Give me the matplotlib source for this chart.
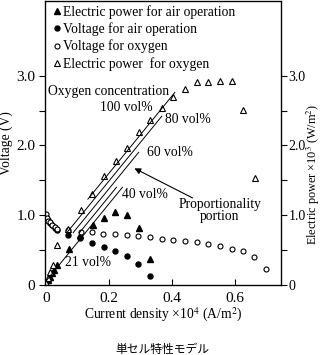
import matplotlib
matplotlib.use('Agg')
import matplotlib.pyplot as plt
import numpy as np

plt.rcParams['font.family'] = ['Liberation Serif', 'DejaVu Serif']
plt.rcParams['mathtext.fontset'] = 'stix'

# current density x10^4 (A/m2) / voltage (V) / power x10^3 (W/m2)
air_p_x = [0.0, 0.006, 0.013, 0.019, 0.025, 0.035, 0.073, 0.108, 0.149, 0.184, 0.219, 0.257, 0.295, 0.330]
air_p_y = [0.01, 0.07, 0.12, 0.17, 0.22, 0.29, 0.51, 0.71, 0.86, 0.96, 1.04, 1.00, 0.81, 0.37]

air_v_x = [0.0, 0.006, 0.013, 0.019, 0.029, 0.035, 0.070, 0.108, 0.146, 0.184, 0.219, 0.257, 0.292, 0.330]
air_v_y = [0.98, 0.93, 0.89, 0.86, 0.82, 0.79, 0.71, 0.67, 0.60, 0.54, 0.49, 0.41, 0.30, 0.13]

oxy_v_x = [0.0, 0.003, 0.006, 0.013, 0.019, 0.029, 0.035, 0.070, 0.111, 0.146, 0.181, 0.219, 0.257,
           0.292, 0.330, 0.368, 0.403, 0.441, 0.479, 0.514, 0.552, 0.590, 0.625, 0.660, 0.698]
oxy_v_y = [1.02, 0.96, 0.92, 0.90, 0.86, 0.83, 0.80, 0.79, 0.76, 0.76, 0.73, 0.73, 0.71,
           0.70, 0.69, 0.66, 0.64, 0.63, 0.61, 0.59, 0.56, 0.51, 0.49, 0.40, 0.23]

oxy_p_x = [0.0, 0.006, 0.013, 0.022, 0.036, 0.070, 0.111, 0.146, 0.184, 0.222, 0.257, 0.295,
           0.330, 0.368, 0.403, 0.441, 0.479, 0.514, 0.552, 0.590, 0.625, 0.663]
oxy_p_y = [0.03, 0.10, 0.18, 0.28, 0.57, 0.80, 1.07, 1.31, 1.56, 1.77, 1.97, 2.19,
           2.36, 2.54, 2.70, 2.81, 2.91, 2.91, 2.93, 2.93, 2.51, 1.54]

# proportionality lines (x = x0 + y/slope)
conc_labels = ['100 vol%', '80 vol%', '60 vol%', '40 vol%', '21 vol%']
line_x0 = [-0.089, -0.069, -0.049, -0.029, -0.010]
line_y_start = [1.23, 0.75, 0.75, 0.75, 0.0]
line_y_end = [2.76, 2.42, 1.90, 1.40, 1.40]
slope = 5.54

fig = plt.figure(figsize=(3.23, 3.55), dpi=100)
ax = fig.add_axes([45/323, 70/355, 236/323, 284/355])

fs = 9.8       # annotations, axis labels, legend
fs_big = 11.0  # tick labels

ax.plot(air_p_x, air_p_y, '^', color='black', ms=3.8, ls='none', label='Electric power for air operation')
ax.plot(air_v_x, air_v_y, 'o', color='black', ms=3.6, ls='none', label='Voltage for air operation')
ax.plot(oxy_v_x, oxy_v_y, 'o', mfc='white', mec='black', mew=0.8, ms=3.6, ls='none', label='Voltage for oxygen')
ax.plot(oxy_p_x, oxy_p_y, '^', mfc='white', mec='black', mew=0.8, ms=3.8, ls='none', label='Electric power  for oxygen')

for x0, ys, ye in zip(line_x0, line_y_start, line_y_end):
    yy = np.array([ys, ye])
    ax.plot(x0 + yy/slope, yy, color='black', lw=0.7)

ax.text(0.006, 2.77, 'Oxygen concentration', fontsize=fs, va='center')
ax.text(0.171, 2.54, conc_labels[0], fontsize=fs, va='center')
ax.text(0.378, 2.37, conc_labels[1], fontsize=fs, va='center')
ax.text(0.321, 1.90, conc_labels[2], fontsize=fs, va='center')
ax.text(0.241, 1.29, conc_labels[3], fontsize=fs, va='center')
ax.text(0.060, 0.32, conc_labels[4], fontsize=fs, va='center')
ax.text(0.552, 1.07, 'Proportionality\nportion', fontsize=fs, ha='center', va='center', linespacing=0.95)
ax.annotate('', xy=(0.273, 1.69), xytext=(0.473, 1.23),
            arrowprops=dict(arrowstyle='-|>', color='black', lw=0.8, mutation_scale=9))

ax.set_xlim(-0.003, 0.746)
ax.set_ylim(0, 4.07)
ax.set_xticks([0, 0.2, 0.4, 0.6])
ax.set_xticklabels(['0', '0.2', '0.4', '0.6'], fontsize=fs_big)
ax.set_yticks([0, 1, 2, 3])
ax.set_yticklabels(['0', '1.0', '2.0', '3.0'], fontsize=fs_big)
ax.set_yticks([0.5, 1.5, 2.5], minor=True)
ax.tick_params(axis='x', direction='in', length=4, width=0.8, pad=5)
ax.tick_params(axis='y', direction='out', length=4, width=0.8, which='both', pad=3)
ax.set_xlabel('Current density \u00d710$^4$ (A/m$^2$)', fontsize=fs, labelpad=1)
ax.set_ylabel('Voltage (V)', fontsize=fs, labelpad=2)
for s in ax.spines.values():
    s.set_linewidth(0.9)

ax2 = ax.twinx()
ax2.set_ylim(0, 4.07)
ax2.set_yticks([0, 1, 2, 3])
ax2.set_yticklabels(['0', '1.0', '2.0', '3.0'], fontsize=10)
ax2.set_yticks([0.5, 1.5, 2.5], minor=True)
ax2.tick_params(axis='y', direction='out', length=4, width=0.8, which='both', pad=1.5)
ax2.set_ylabel('Electric power \u00d710$^3$ (W/m$^2$)', fontsize=8.8, va='center')
ax2.yaxis.set_label_coords(1.138, 0.39)

ax.legend(loc='upper left', bbox_to_anchor=(0.0, 1.014), frameon=False, fontsize=fs,
          handlelength=0.6, handletextpad=0.15, labelspacing=0.25, borderaxespad=0.2)

fig.text(162/323, 1 - 349/355, '単セル特性モデル', fontsize=8.5, ha='center', va='center',
         family=['Noto Sans CJK JP', 'DejaVu Sans'])

fig.savefig('out.png', dpi=100)
